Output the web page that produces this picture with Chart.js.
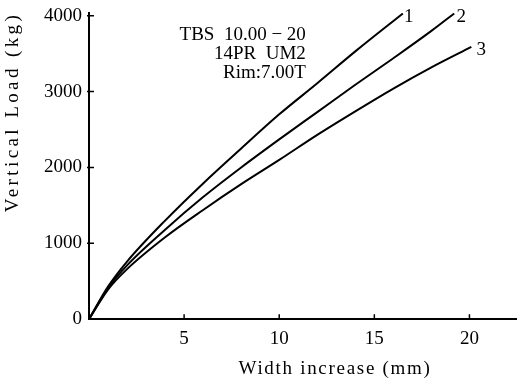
<!DOCTYPE html>
<html lang="en">
  <head>
    <meta charset="UTF-8" />
    <style>
      html, body { margin: 0; padding: 0; background: #fff; }
      #wrap { width: 517px; height: 383px; position: relative; }
    </style>
  </head>
  <body>
    <div id="wrap"><canvas id="myChart"></canvas></div>
    <script src="https://cdn.jsdelivr.net/npm/chart.js@4.4.0/dist/chart.umd.min.js"></script>

    <script>
      // readings: width increase (mm) -> vertical load (kg)
      var curve1X = [0, 1, 2, 4, 6, 8, 10, 12, 14, 16.5];
      var curve1Y = [0, 430, 760, 1300, 1790, 2250, 2700, 3110, 3530, 4030];
      var curve2X = [0, 1, 2, 4, 6, 8, 10, 12, 14, 16, 18, 19.2];
      var curve2Y = [0, 410, 710, 1180, 1610, 2000, 2370, 2730, 3090, 3440, 3800, 4030];
      var curve3X = [0, 1, 2, 4, 6, 8, 10, 12, 14, 16, 18, 20.1];
      var curve3Y = [0, 390, 660, 1080, 1440, 1780, 2100, 2430, 2740, 3040, 3320, 3590];
      var curveNames = ["1", "2", "3"];
      var yTicks = [0, 1000, 2000, 3000, 4000];
      var xTicks = [5, 10, 15, 20];
      var noteLines = ["TBS  10.00 − 20", "14PR  UM2", "Rim:7.00T"];
      var xTitle = "Width increase (mm)";
      var yTitle = "Vertical Load (kg)";

      function pts(xs, ys) {
        return xs.map(function (x, i) { return { x: x, y: ys[i] }; });
      }

      var serif = "'Liberation Serif', 'Times New Roman', serif";

      // curve end labels, note text, inside tick marks, axis titles
      var extras = {
        id: "extras",
        afterDatasetsDraw: function (chart) {
          var c = chart.ctx;
          var xs = chart.scales.x, ys = chart.scales.y;
          c.save();
          c.fillStyle = "#000";
          c.font = "19px " + serif;
          c.textAlign = "center";
          c.textBaseline = "middle";
          var offs = [[6, 4], [7, 4], [10, 3]];
          chart.data.datasets.forEach(function (ds, i) {
            var last = ds.data[ds.data.length - 1];
            c.fillText(curveNames[i], xs.getPixelForValue(last.x) + offs[i][0], ys.getPixelForValue(last.y) + offs[i][1]);
          });
          c.textAlign = "right";
          var nx = xs.getPixelForValue(11.4);
          noteLines.forEach(function (t, i) {
            c.fillText(t, nx, ys.getPixelForValue(3740 - i * 245));
          });

          c.strokeStyle = "#000";
          c.lineWidth = 1.5;
          c.beginPath();
          xTicks.forEach(function (v) {
            var px = xs.getPixelForValue(v);
            c.moveTo(px, ys.bottom);
            c.lineTo(px, ys.bottom - 5);
          });
          yTicks.slice(1).forEach(function (v) {
            var py = ys.getPixelForValue(v);
            c.moveTo(xs.left - 2, py);
            c.lineTo(xs.left + 5, py);
          });
          c.stroke();

          // axis titles, letter-spaced like the original
          c.textAlign = "center";
          c.letterSpacing = "1.7px";
          c.fillText(xTitle, 335, 369);
          c.letterSpacing = "3.4px";
          c.translate(13, 112);
          c.rotate(-Math.PI / 2);
          c.fillText(yTitle, 0, 0);
          c.restore();
        },
      };

      var line = { borderColor: "#000", borderWidth: 2, pointRadius: 0, cubicInterpolationMode: "monotone", fill: false };

      var ctx = document.getElementById("myChart").getContext("2d");
      var chart = new Chart(ctx, {
        type: "line",
        data: {
          datasets: [
            Object.assign({ label: "1", data: pts(curve1X, curve1Y) }, line),
            Object.assign({ label: "2", data: pts(curve2X, curve2Y) }, line),
            Object.assign({ label: "3", data: pts(curve3X, curve3Y) }, line),
          ],
        },
        options: {
          responsive: true,
          maintainAspectRatio: false,
          animation: false,
          layout: { padding: { left: 37, right: 0, top: 0, bottom: 25 } },
          plugins: { legend: { display: false }, tooltip: { enabled: false } },
          scales: {
            x: {
              type: "linear",
              min: 0,
              max: 22.5,
              afterBuildTicks: function (s) {
                s.ticks = xTicks.map(function (v) { return { value: v }; });
              },
              ticks: {
                color: "#000",
                padding: 8,
                font: { family: serif, size: 19 },
                callback: function (v) { return String(v); },
              },
              grid: { display: false, drawTicks: false },
              border: { color: "#000", width: 2 },
            },
            y: {
              min: 0,
              max: 4040,
              afterBuildTicks: function (s) {
                s.ticks = yTicks.map(function (v) { return { value: v }; });
              },
              ticks: {
                color: "#000",
                padding: 7,
                font: { family: serif, size: 19, lineHeight: 0.6 },
                callback: function (v) { return String(v); },
              },
              grid: { display: false, drawTicks: false },
              border: { color: "#000", width: 2 },
            },
          },
        },
        plugins: [extras],
      });
    </script>
  </body>
</html>
